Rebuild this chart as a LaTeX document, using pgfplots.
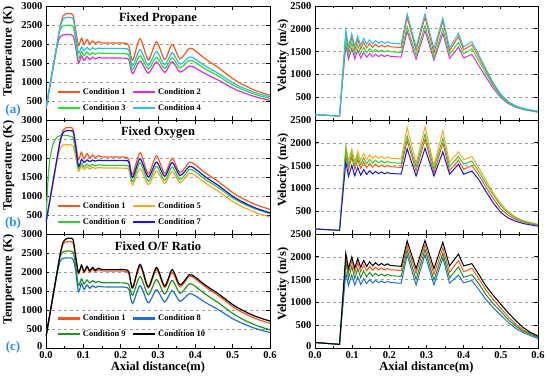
\documentclass[border=0pt]{standalone}
\usepackage{fontspec}
\setmainfont{Liberation Serif}
\usepackage{pgfplots}
\usepackage{pgfplotstable}
\pgfplotsset{compat=1.18}

\definecolor{cA}{RGB}{255,85,20}
\definecolor{cB}{RGB}{230,40,230}
\definecolor{cC}{RGB}{40,225,40}
\definecolor{cD}{RGB}{40,190,240}
\definecolor{cE}{RGB}{255,165,30}
\definecolor{cF}{RGB}{50,205,50}
\definecolor{cG}{RGB}{20,20,240}
\definecolor{cH}{RGB}{30,110,220}
\definecolor{cI}{RGB}{30,150,30}
\definecolor{cJ}{RGB}{0,0,0}
\definecolor{lblblue}{RGB}{40,140,240}

% Temperature, Fixed Propane: C1 C2 C3 C4
\pgfplotstableread{
x c1 c2 c3 c4
0.000 300 300 300 300
0.004 530 530 530 530
0.010 870 870 870 870
0.020 1440 1440 1440 1440
0.030 2010 1960 2000 2010
0.038 2466 2190 2380 2440
0.046 2740 2240 2475 2650
0.056 2800 2250 2490 2700
0.066 2800 2250 2490 2700
0.073 2750 2210 2450 2650
0.079 2400 1950 2150 2300
0.087 1960 1500 1620 1760
0.095 2150 1690 1800 1920
0.102 1980 1570 1690 1820
0.110 2120 1670 1790 1910
0.117 2000 1590 1715 1845
0.125 2080 1655 1775 1900
0.132 2010 1605 1730 1860
0.140 2060 1645 1765 1890
0.150 2030 1635 1755 1885
0.180 2025 1630 1750 1880
0.212 2020 1625 1745 1878
0.222 1950 1580 1700 1830
0.232 1570 1220 1330 1430
0.252 2140 1550 1690 1850
0.274 1580 1230 1340 1440
0.296 2060 1530 1650 1800
0.318 1590 1250 1350 1460
0.338 1990 1540 1640 1770
0.359 1610 1260 1370 1470
0.384 1890 1420 1570 1660
0.400 1820 1370 1514 1601
0.420 1660 1254 1385 1466
0.440 1520 1152 1272 1347
0.460 1390 1057 1167 1237
0.480 1240 948 1046 1110
0.500 1090 840 925 983
0.520 970 752 828 881
0.540 870 679 747 796
0.560 780 615 675 720
0.580 710 563 618 660
0.600 650 520 570 610
}\tTa

% Temperature, Fixed Oxygen: C1 C5 C6 C7
\pgfplotstableread{
x c1 c5 c6 c7
0.000 300 300 300 300
0.004 530 520 1200 530
0.010 870 850 1950 870
0.020 1440 1400 2400 1440
0.030 2010 1950 2550 2010
0.038 2466 2250 2590 2440
0.046 2740 2340 2600 2670
0.056 2800 2350 2590 2720
0.066 2800 2350 2570 2720
0.073 2750 2310 2520 2680
0.079 2400 2050 2200 2350
0.087 1960 1650 1720 1780
0.095 2150 1790 1860 1960
0.102 1980 1690 1760 1880
0.110 2120 1770 1840 1950
0.117 2000 1710 1780 1905
0.125 2080 1760 1830 1945
0.132 2010 1725 1795 1920
0.140 2060 1750 1820 1940
0.150 2030 1740 1810 1935
0.180 2025 1735 1805 1935
0.212 2020 1730 1800 1935
0.222 1950 1690 1770 1890
0.232 1570 1290 1375 1490
0.252 2140 1720 1875 1980
0.274 1580 1300 1390 1500
0.296 2060 1660 1780 1890
0.318 1590 1330 1410 1520
0.338 1990 1650 1760 1880
0.359 1610 1350 1430 1540
0.384 1890 1600 1700 1780
0.400 1820 1536 1635 1712
0.420 1660 1387 1485 1554
0.440 1520 1257 1354 1416
0.460 1390 1137 1233 1288
0.480 1240 997 1092 1141
0.500 1090 858 952 993
0.520 970 747 839 875
0.540 870 654 745 776
0.560 780 571 662 688
0.580 710 505 596 619
0.600 650 450 540 560
}\tTb

% Temperature, Fixed O/F: C1 C8 C9 C10
\pgfplotstableread{
x c1 c8 c9 c10
0.000 300 300 300 300
0.004 530 530 530 530
0.010 870 870 870 870
0.020 1440 1440 1440 1440
0.030 2010 1980 2010 2010
0.038 2466 2290 2420 2466
0.046 2740 2360 2530 2790
0.056 2800 2370 2550 2880
0.066 2800 2370 2550 2890
0.073 2750 2330 2510 2840
0.079 2400 2050 2200 2450
0.087 1960 1480 1650 1980
0.095 2150 1700 1820 2180
0.102 1980 1540 1690 2010
0.110 2120 1660 1790 2150
0.117 2000 1570 1710 2030
0.125 2080 1640 1770 2120
0.132 2010 1590 1725 2045
0.140 2060 1625 1750 2100
0.150 2030 1610 1720 2065
0.180 2025 1605 1715 2062
0.212 2020 1600 1710 2060
0.222 1950 1540 1660 2000
0.232 1570 1170 1390 1590
0.252 2140 1640 1880 2200
0.274 1580 1190 1400 1610
0.296 2060 1530 1800 2120
0.318 1590 1210 1420 1630
0.338 1990 1510 1780 2060
0.359 1610 1230 1440 1660
0.384 1890 1430 1690 1930
0.400 1820 1373 1622 1862
0.420 1660 1241 1466 1704
0.440 1520 1126 1329 1566
0.460 1390 1019 1202 1438
0.480 1240 896 1056 1291
0.500 1090 772 910 1143
0.520 970 673 792 1025
0.540 870 591 694 926
0.560 780 517 607 838
0.580 710 459 538 769
0.600 650 410 480 710
}\tTc

% Velocity, Fixed Propane: C1 C2 C3 C4
\pgfplotstableread{
x c1 c2 c3 c4
0.000 120 120 120 120
0.066 85 85 85 85
0.083 1900 1650 1770 1970
0.090 1530 1330 1425 1610
0.099 1810 1570 1690 1890
0.107 1540 1340 1435 1620
0.115 1760 1530 1640 1840
0.123 1560 1360 1455 1640
0.131 1710 1485 1595 1790
0.139 1580 1375 1472 1660
0.147 1680 1460 1565 1760
0.155 1595 1387 1487 1675
0.163 1660 1442 1547 1740
0.171 1600 1392 1492 1680
0.179 1645 1430 1533 1725
0.187 1600 1392 1492 1680
0.195 1635 1421 1523 1715
0.203 1605 1396 1496 1685
0.232 1590 1380 1480 1670
0.248 2250 1950 2050 2330
0.272 1530 1330 1420 1600
0.296 2250 1960 2070 2330
0.320 1470 1310 1370 1560
0.344 2170 1900 2000 2240
0.362 1520 1350 1440 1580
0.386 1830 1600 1700 1900
0.400 1540 1360 1450 1600
0.422 1650 1440 1560 1720
0.440 1390 1200 1310 1440
0.460 1080 940 1020 1120
0.480 780 690 740 810
0.500 545 490 520 565
0.520 390 360 375 405
0.540 300 280 290 312
0.560 248 230 240 257
0.580 215 200 208 222
0.600 190 170 182 198
}\tVa

% Velocity, Fixed Oxygen: C1 C5 C6 C7
\pgfplotstableread{
x c1 c5 c6 c7
0.000 110 110 110 110
0.066 80 80 80 80
0.083 1760 1950 1870 1580
0.090 1405 1585 1490 1265
0.099 1680 1865 1770 1500
0.107 1415 1595 1500 1275
0.115 1630 1815 1720 1460
0.123 1435 1615 1520 1290
0.131 1580 1765 1670 1415
0.139 1452 1635 1540 1305
0.147 1550 1735 1640 1390
0.155 1467 1650 1555 1317
0.163 1530 1715 1620 1372
0.171 1472 1655 1560 1322
0.179 1515 1700 1605 1360
0.187 1472 1655 1560 1322
0.195 1505 1690 1595 1351
0.203 1476 1660 1565 1326
0.232 1460 1645 1550 1315
0.248 2050 2340 2150 1870
0.272 1380 1550 1470 1270
0.296 2080 2350 2190 1880
0.320 1340 1510 1430 1270
0.344 1990 2260 2100 1800
0.362 1390 1575 1480 1310
0.386 1620 1800 1700 1530
0.400 1420 1630 1530 1310
0.422 1500 1700 1600 1380
0.440 1300 1460 1380 1200
0.460 1030 1180 1110 930
0.480 770 900 850 680
0.500 550 660 620 470
0.520 410 490 460 350
0.540 320 370 350 280
0.560 260 295 280 230
0.580 220 250 240 200
0.600 190 215 205 170
}\tVb

% Velocity, Fixed O/F: C1 C8 C9 C10
\pgfplotstableread{
x c1 c8 c9 c10
0.000 120 120 120 120
0.066 80 80 80 80
0.083 2000 1650 1900 2080
0.090 1640 1370 1510 1740
0.099 1920 1600 1790 2000
0.107 1650 1380 1520 1750
0.115 1870 1560 1740 1960
0.123 1670 1395 1540 1770
0.131 1820 1520 1690 1920
0.139 1690 1412 1560 1790
0.147 1790 1500 1660 1890
0.155 1705 1427 1575 1805
0.163 1770 1482 1640 1870
0.171 1710 1432 1580 1810
0.179 1755 1470 1625 1855
0.187 1710 1432 1580 1810
0.195 1745 1460 1615 1845
0.203 1715 1436 1585 1810
0.232 1700 1420 1570 1790
0.248 2250 2040 2150 2350
0.272 1630 1380 1500 1740
0.296 2260 2050 2160 2360
0.320 1620 1380 1490 1740
0.344 2200 1980 2080 2320
0.362 1660 1420 1540 1800
0.386 1920 1600 1780 2060
0.400 1670 1430 1550 1800
0.422 1750 1480 1610 1850
0.440 1530 1290 1420 1620
0.460 1270 1060 1170 1360
0.480 1060 880 970 1150
0.500 870 720 800 960
0.520 680 560 620 770
0.540 520 430 480 600
0.560 400 340 370 450
0.580 320 270 300 340
0.600 250 210 235 265
}\tVc

\pgfplotsset{
  base/.style={
    scale only axis, width=224pt, height=114pt,
    xmin=0, xmax=0.6,
    xtick={0,0.1,0.2,0.3,0.4,0.5,0.6},
    minor xtick={0.05,0.15,0.25,0.35,0.45,0.55},
    ymajorgrids, grid style={dashed, gray!75, line width=0.6pt},
    axis line style={line width=0.9pt},
    major tick length=3.5pt, minor tick length=2pt,
    every tick/.style={black, line width=0.7pt},
    tick label style={font=\bfseries\fontsize{10.5}{12}\selectfont},
    /pgf/number format/assume math mode=true,
    label style={font=\bfseries\fontsize{12.5}{14}\selectfont},
    legend style={draw=none, fill=none, inner sep=0pt,
      font=\bfseries\fontsize{8.5}{10}\selectfont,
      /tikz/every even column/.append style={column sep=4pt},
      row sep=4.5pt, anchor=south west},
    legend columns=2, legend cell align=left,
    legend image code/.code={\draw[#1,line width=2.6pt] (0pt,0pt) -- (22pt,0pt);},
    clip=true,
  },
  temp/.style={base, ymin=0, ymax=3000, ytick={0,500,...,3000},
    ylabel={Temperature (K)},
    ylabel style={at={(axis description cs:-0.167,0.6)}, anchor=center},
    every axis plot/.append style={line width=1.2pt, smooth, tension=0.45}},
  vel/.style={base, width=223pt, ymin=0, ymax=2500, ytick={0,500,...,2500},
    ylabel={Velocity (m/s)},
    ylabel style={at={(axis description cs:-0.143,0.56)}, anchor=center},
    every axis plot/.append style={line width=1pt}},
  notopx/.style={xticklabels={}},
  botx/.style={xticklabels={0.0,0.1,0.2,0.3,0.4,0.5,0.6},
    xlabel={Axial distance(m)},
    xlabel style={at={(axis description cs:0.5,-0.175)}, anchor=center, font=\bfseries\fontsize{12.5}{14}\selectfont}},
}

\begin{document}
\begin{tikzpicture}
\useasboundingbox (0,0) rectangle (550pt,381pt);

% ---------------- Left column: temperature ----------------
\begin{axis}[temp, notopx, at={(46pt,261pt)}, anchor=south west,
  yticklabels={,500,1000,1500,2000,2500,3000},
  legend style={at={(axis description cs:0.045,0.055)}}]
\addplot[cA] table[x=x,y=c1]{\tTa}; \addlegendentry{Condition 1}
\addplot[cB] table[x=x,y=c2]{\tTa}; \addlegendentry{Condition 2}
\addplot[cC] table[x=x,y=c3]{\tTa}; \addlegendentry{Condition 3}
\addplot[cD] table[x=x,y=c4]{\tTa}; \addlegendentry{Condition 4}
\node[font=\bfseries\fontsize{12.5}{14}\selectfont] at (axis description cs:0.5,0.89) {Fixed Propane};
\end{axis}

\begin{axis}[temp, notopx, at={(46pt,147pt)}, anchor=south west,
  yticklabels={,500,1000,1500,2000,2500,3000},
  legend style={at={(axis description cs:0.045,0.055)}}]
\addplot[cA] table[x=x,y=c1]{\tTb}; \addlegendentry{Condition 1}
\addplot[cE] table[x=x,y=c5]{\tTb}; \addlegendentry{Condition 5}
\addplot[cF] table[x=x,y=c6]{\tTb}; \addlegendentry{Condition 6}
\addplot[cG] table[x=x,y=c7]{\tTb}; \addlegendentry{Condition 7}
\node[font=\bfseries\fontsize{12.5}{14}\selectfont] at (axis description cs:0.5,0.89) {Fixed Oxygen};
\end{axis}

\begin{axis}[temp, botx, at={(46pt,33pt)}, anchor=south west,
  yticklabels={\raisebox{4pt}{0},500,1000,1500,2000,2500,3000},
  legend style={at={(axis description cs:0.045,0.07)}}]
\addplot[cA] table[x=x,y=c1]{\tTc}; \addlegendentry{Condition 1}
\addplot[cH] table[x=x,y=c8]{\tTc}; \addlegendentry{Condition 8}
\addplot[cI] table[x=x,y=c9]{\tTc}; \addlegendentry{Condition 9}
\addplot[cJ] table[x=x,y=c10]{\tTc}; \addlegendentry{Condition 10}
\node[font=\bfseries\fontsize{12.5}{14}\selectfont] at (axis description cs:0.5,0.89) {Fixed O/F Ratio};
\end{axis}

% ---------------- Right column: velocity ----------------
\begin{axis}[vel, notopx, at={(315pt,261pt)}, anchor=south west,
  yticklabels={,500,1000,1500,2000,2500}]
\addplot[cA] table[x=x,y=c1]{\tVa};
\addplot[cB] table[x=x,y=c2]{\tVa};
\addplot[cC] table[x=x,y=c3]{\tVa};
\addplot[cD] table[x=x,y=c4]{\tVa};
\end{axis}

\begin{axis}[vel, notopx, at={(315pt,147pt)}, anchor=south west,
  yticklabels={,500,1000,1500,2000,2500}]
\addplot[cA] table[x=x,y=c1]{\tVb};
\addplot[cE] table[x=x,y=c5]{\tVb};
\addplot[cF] table[x=x,y=c6]{\tVb};
\addplot[cG] table[x=x,y=c7]{\tVb};
\end{axis}

\begin{axis}[vel, botx, at={(315pt,33pt)}, anchor=south west,
  yticklabels={\raisebox{4pt}{0},500,1000,1500,2000,2500}]
\addplot[cA] table[x=x,y=c1]{\tVc};
\addplot[cH] table[x=x,y=c8]{\tVc};
\addplot[cI] table[x=x,y=c9]{\tVc};
\addplot[cJ] table[x=x,y=c10]{\tVc};
\end{axis}

% panel letters
\node[text=lblblue, font=\bfseries\fontsize{13}{15}\selectfont] at (13pt,271pt) {(a)};
\node[text=lblblue, font=\bfseries\fontsize{13}{15}\selectfont] at (13pt,158pt) {(b)};
\node[text=lblblue, font=\bfseries\fontsize{13}{15}\selectfont] at (13pt,34pt) {(c)};
\end{tikzpicture}
\end{document}
